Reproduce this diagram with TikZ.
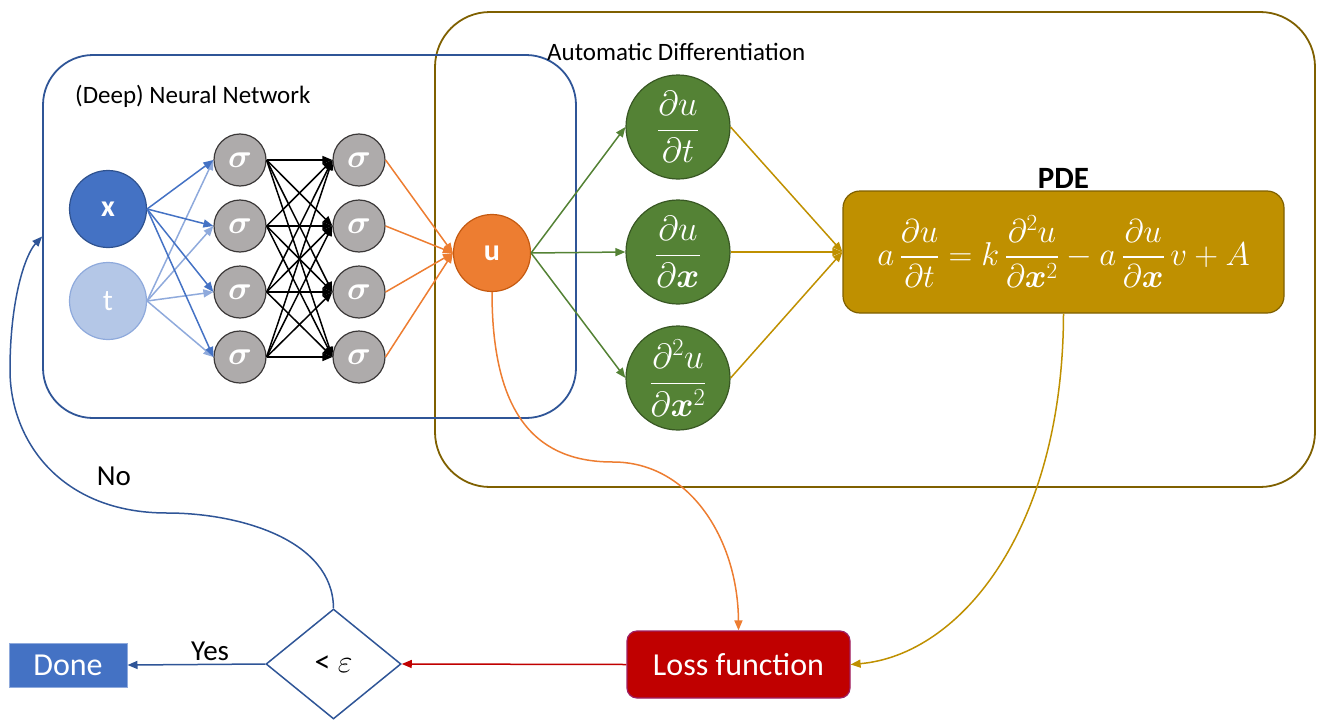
\documentclass[tikz,border=0pt]{standalone}
\usepackage{fix-cm}
\usepackage{amsmath, amssymb}
\usepackage{fontspec}
\setmainfont{Carlito}
\usetikzlibrary{positioning, shapes.geometric, arrows.meta}

\definecolor{nnblue}{HTML}{2F5597}
\definecolor{adolive}{HTML}{7F6000}
\definecolor{xblue}{HTML}{4472C4}
\definecolor{xedge}{HTML}{2F528F}
\definecolor{tblue}{HTML}{B4C7E7}
\definecolor{tedge}{HTML}{8FAADC}
\definecolor{sigmagray}{HTML}{AEABAB}
\definecolor{sigmaedge}{HTML}{3B3838}
\definecolor{uorange}{HTML}{ED7D31}
\definecolor{uedge}{HTML}{C55A11}
\definecolor{dgreen}{HTML}{548235}
\definecolor{dedge}{HTML}{385723}
\definecolor{gold}{HTML}{BF9000}
\definecolor{lossred}{HTML}{C00000}
\definecolor{lossedge}{HTML}{9E1F63}

\begin{document}
\begin{tikzpicture}[x=1pt, y=-1pt,
	every node/.style={font=\fontsize{25}{30}\selectfont},
	nnframe/.style={draw=nnblue, line width=1.8pt, rounded corners=50pt, inner sep=0pt},
	adframe/.style={draw=adolive, line width=1.8pt, rounded corners=55pt, inner sep=0pt},
	input/.style={circle, line width=1.2pt, minimum size=77pt, inner sep=0pt, text=white, font=\fontsize{30}{30}\selectfont},
	neuron/.style={circle, draw=sigmaedge, fill=sigmagray, line width=1.2pt, minimum size=52pt, inner sep=0pt, text=white, font=\fontsize{33}{33}\selectfont},
	deriv/.style={circle, draw=dedge, fill=dgreen, line width=1.2pt, minimum size=104pt, inner sep=0pt, text=white, font=\fontsize{35}{36}\selectfont},
	pdebox/.style={draw=adolive, fill=gold, line width=1.2pt, rounded corners=17pt, text=white, font=\fontsize{33}{34}\selectfont},
	lossbox/.style={draw=lossedge, fill=lossred, line width=1.2pt, rounded corners=10pt, text=white, minimum width=223pt, minimum height=67pt, font=\fontsize{32}{34}\selectfont},
	donebox/.style={draw=tedge, fill=xblue, line width=1pt, text=white, minimum width=118pt, minimum height=44pt, inner sep=0pt, font=\fontsize{32}{34}\selectfont},
	check/.style={diamond, draw=nnblue, fill=white, line width=1.5pt, minimum width=135pt, minimum height=110pt, inner sep=0pt, font=\fontsize{32}{32}\selectfont},
	con/.style={line width=1.5pt, -{Triangle[length=10pt, width=8pt]}}
]
	\useasboundingbox (0,0) rectangle (1317,720);
	
	\node[adframe, minimum width=880pt, minimum height=475pt] (ad) at (875,249.5) {};
	\node[nnframe, minimum width=533pt, minimum height=363pt] (nn) at (309.5,236.5) {};
	\node[anchor=west, inner sep=0pt] (nnlabel) at (75,96) {(Deep) Neural Network};
	\node[anchor=west, inner sep=0pt] (adlabel) at (547,52) {Automatic Differentiation};
	
	\node[input, fill=xblue, draw=xedge] (x) at (108,209) {\textbf{x}};
	\node[input, fill=tblue, draw=tedge] (t) at (108,301) {t};
	\foreach \i/\y in {1/160, 2/226, 3/292, 4/357} {
		\node[neuron] (h1-\i) at (240,\y) {$\boldsymbol{\sigma}$};
		\node[neuron] (h2-\i) at (359,\y) {$\boldsymbol{\sigma}$};
	}
	\node[input, fill=uorange, draw=uedge] (u) at (492,253) {\textbf{u}};
	
	\node[deriv] (d1) at (678,127) {$\dfrac{\partial u}{\partial t}$};
	\node[deriv] (d2) at (678,252) {$\dfrac{\partial u}{\partial \boldsymbol{x}}$};
	\node[deriv] (d3) at (678,378) {$\dfrac{\partial^2 u}{\partial \boldsymbol{x}^2}$};
	
	\node[pdebox, minimum width=441pt, minimum height=122pt] (pde) at (1063.5,252) {$a\,\dfrac{\partial u}{\partial t} = k\,\dfrac{\partial^2 u}{\partial \boldsymbol{x}^2} - a\,\dfrac{\partial u}{\partial \boldsymbol{x}}\,v + A$};
	\node[above=0pt of pde, inner sep=2pt, font=\bfseries\fontsize{31}{31}\selectfont] (pdelabel) {PDE};
	
	\node[lossbox] (loss) at (738.5,664.5) {Loss function};
	\node[check] (check) at (333.5,664) {< $\varepsilon$};
	\node[donebox] (done) at (68,665) {Done};
	
	\foreach \j in {1,...,4} {
		\draw[con, tedge] (t.east) -- (h1-\j.west);
		\draw[con, xblue] (x.east) -- (h1-\j.west);
		\foreach \i in {1,...,4}
			\draw[con, black] (h1-\i.east) -- (h2-\j.west);
		\draw[con, uorange] (h2-\j.east) -- (u.west);
	}
	\foreach \i in {1,2,3} {
		\draw[con, dgreen] (u.east) -- (d\i.west);
		\draw[con, gold] (d\i.east) -- (pde.west);
	}
	
	\draw[con, uorange] (u.south) .. controls (492,420) and (540,462) .. (613,462) .. controls (690,462) and (738,540) .. (loss.north);
	\draw[con, gold] (pde.south) .. controls (1063,530) and (960,655) .. (loss.east);
	\draw[con, lossred] (loss.west) -- (check.east);
	\draw[con, nnblue] (check.west) -- node[pos=0.4, above, text=black, font=\fontsize{29}{30}\selectfont] (yes) {Yes} (done.east);
	\draw[con, nnblue] (check.north) .. controls (333,540) and (240,513) .. (167,513) .. controls (60,513) and (10,440) .. (10,370) .. controls (10,300) and (25,255) .. (nn.west);
	\node[font=\fontsize{29}{30}\selectfont] (no) at (114,476) {No};
\end{tikzpicture}
\end{document}
